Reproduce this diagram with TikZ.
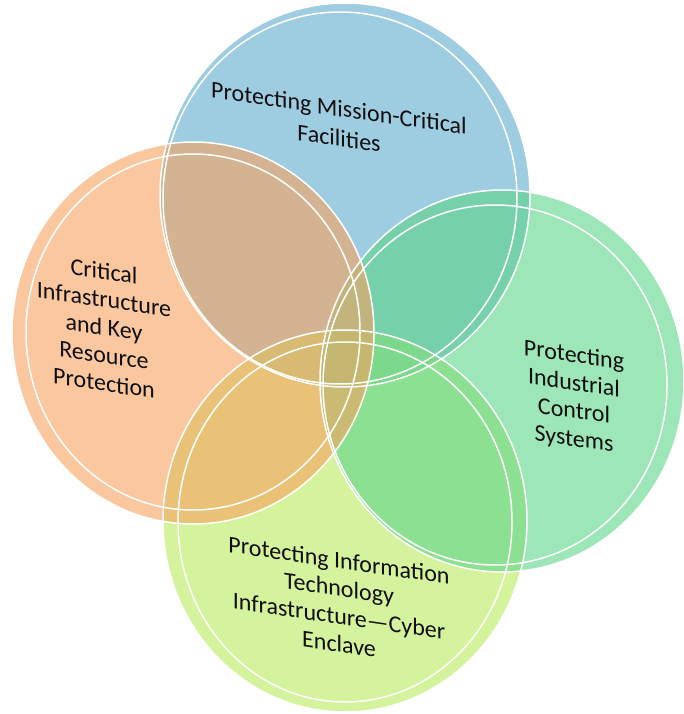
\documentclass[tikz,border=0pt]{standalone}
\usepackage{fontspec}
\setmainfont{Carlito}
\definecolor{blueC}{RGB}{93,170,203}
\definecolor{orangeC}{RGB}{247,162,95}
\definecolor{greenC}{RGB}{92,213,137}
\definecolor{lgreenC}{RGB}{185,233,92}
\definecolor{txtC}{RGB}{15,15,15}
\begin{document}
\begin{tikzpicture}[x=1pt,y=-1pt,
  disc/.style={fill opacity=0.6},
  ring/.style={draw=white, line width=1.5pt},
  lbl/.style={align=center, yslant=-0.145, inner sep=0pt, text=txtC,
              font=\fontsize{24}{28}\selectfont}]
\useasboundingbox (0,0) rectangle (684,714);
% fills
\fill[blueC,disc]   (345,195) ellipse [x radius=185pt, y radius=192pt];
\fill[lgreenC,disc] (345,521) ellipse [x radius=182pt, y radius=191pt];
\fill[greenC,disc]  (502,381) ellipse [x radius=182pt, y radius=191pt];
\fill[orangeC,disc] (193,333) ellipse [x radius=181pt, y radius=191pt];
% outlines
\draw[ring] (345,195) ellipse [x radius=185pt, y radius=192pt];
\draw[ring] (340,198) ellipse [x radius=177pt, y radius=186pt];
\draw[ring] (345,521) ellipse [x radius=182pt, y radius=191pt];
\draw[ring] (345,522) ellipse [x radius=167pt, y radius=180pt];
\draw[ring] (502,381) ellipse [x radius=182pt, y radius=191pt];
\draw[ring] (495,385) ellipse [x radius=172pt, y radius=180pt];
\draw[ring] (193,333) ellipse [x radius=181pt, y radius=191pt];
\draw[ring] (193,332) ellipse [x radius=167pt, y radius=178pt];
% labels
\node[lbl, font=\fontsize{24}{30}\selectfont] (mission) at (339,123) {Protecting Mission-Critical\\Facilities};
\node[lbl] (ckr) at (104,327) {Critical\\Infrastructure\\and Key\\Resource\\Protection};
\node[lbl] (ics) at (574,398) {Protecting\\Industrial\\Control\\Systems};
\node[lbl] (itc) at (339,602) {Protecting Information\\Technology\\Infrastructure\textemdash Cyber\\Enclave};
\end{tikzpicture}
\end{document}
